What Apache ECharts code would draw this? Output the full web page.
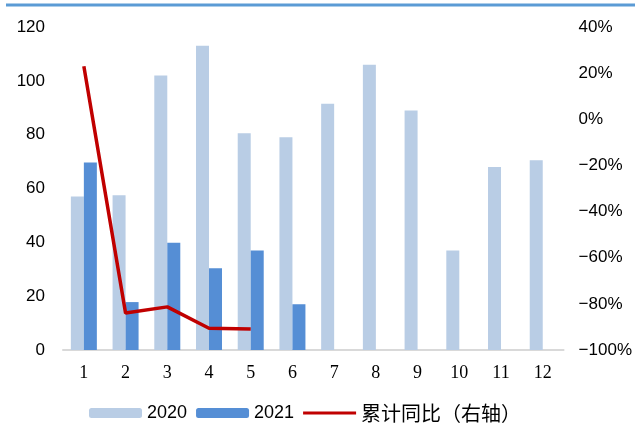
<!DOCTYPE html>
<html>
<head>
<meta charset="utf-8">
<script src="https://cdn.jsdelivr.net/npm/echarts@6/dist/echarts.min.js"></script>
<style>
  html, body { margin: 0; padding: 0; background: #fff; }
  #chart { width: 635px; height: 423px; }
</style>
</head>
<body>
<div id="chart"></div>
<script>
// Monthly volumes for 2020 and 2021, plus cumulative year-on-year change (right axis)
const months = ['1', '2', '3', '4', '5', '6', '7', '8', '9', '10', '11', '12'];
const values2020 = [57, 57.5, 102, 113, 80.5, 79, 91.5, 106, 89, 37, 68, 70.5];
const values2021 = [69.7, 17.8, 39.8, 30.4, 37, 17, null, null, null, null, null, null];
const cumulativeYoY = [23, -84, -81.3, -90.6, -90.9, null, null, null, null, null, null, null];
const leftTicks = [0, 20, 40, 60, 80, 100, 120];
const rightTicks = [-100, -80, -60, -40, -20, 0, 20, 40];

const sans = '"Liberation Sans", Arial, sans-serif';
const serif = '"Liberation Serif", "Times New Roman", serif';
const cjk = '"Noto Sans CJK SC", sans-serif';

const chart = echarts.init(document.getElementById('chart'), null, { renderer: 'canvas' });

chart.setOption({
  animation: false,
  backgroundColor: '#ffffff',
  graphic: [{
    type: 'line',
    shape: { x1: 6, y1: 5, x2: 635, y2: 5 },
    style: { stroke: '#5B9BD5', lineWidth: 3 }
  }],
  grid: { left: 63, right: 69, top: 27, bottom: 73 },
  legend: {
    left: 84,
    top: 398,
    itemWidth: 53,
    itemHeight: 10,
    itemGap: 9,
    textStyle: { fontSize: 18, color: '#000', fontFamily: sans },
    data: [
      { name: '2020' },
      { name: '2021' },
      {
        name: '累计同比（右轴）',
        icon: 'path://M0,0H53V3H0Z',
        itemStyle: { color: '#C00000' },
        textStyle: { fontFamily: cjk, fontSize: 20, color: '#000' }
      }
    ]
  },
  xAxis: {
    type: 'category',
    data: months,
    axisLine: { show: true, lineStyle: { color: '#D9D9D9', width: 2 } },
    axisTick: { show: false },
    axisLabel: { fontFamily: serif, fontSize: 18, color: '#000', margin: 14 }
  },
  yAxis: [
    {
      type: 'value',
      min: leftTicks[0],
      max: leftTicks[leftTicks.length - 1],
      interval: 20,
      splitLine: { show: false },
      axisLine: { show: false },
      axisTick: { show: false },
      axisLabel: { fontFamily: sans, fontSize: 17, color: '#000', margin: 18 }
    },
    {
      type: 'value',
      min: rightTicks[0],
      max: rightTicks[rightTicks.length - 1],
      interval: 20,
      position: 'right',
      splitLine: { show: false },
      axisLine: { show: false },
      axisTick: { show: false },
      axisLabel: {
        fontFamily: sans, fontSize: 17, color: '#000', margin: 15,
        formatter: v => (v < 0 ? '\u2212' + Math.abs(v) : String(v)) + '%'
      }
    }
  ],
  series: [
    {
      name: '2020',
      type: 'bar',
      data: values2020,
      barWidth: 13,
      barGap: '0%',
      itemStyle: { color: '#B9CDE5' }
    },
    {
      name: '2021',
      type: 'bar',
      data: values2021,
      barWidth: 13,
      barGap: '0%',
      itemStyle: { color: '#558ED5' }
    },
    {
      name: '累计同比（右轴）',
      type: 'line',
      yAxisIndex: 1,
      data: cumulativeYoY,
      symbol: 'none',
      lineStyle: { color: '#C00000', width: 3.5 },
      itemStyle: { color: '#C00000' }
    }
  ]
});
</script>
</body>
</html>
